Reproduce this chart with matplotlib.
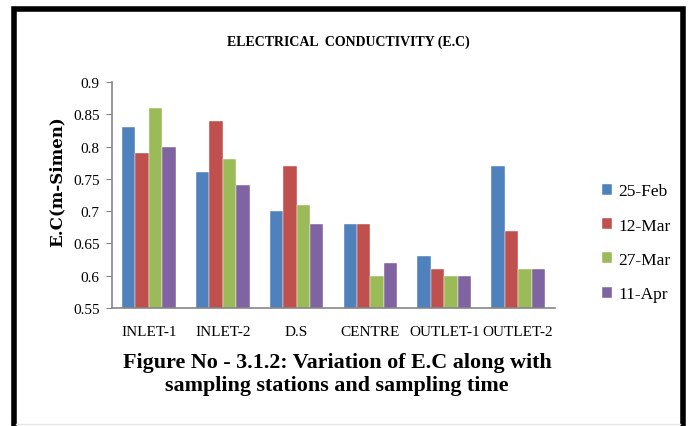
import numpy as np
import matplotlib
matplotlib.use("Agg")
import matplotlib.pyplot as plt
from matplotlib.patches import Rectangle
from matplotlib.lines import Line2D

# Data
stations = ["INLET-1", "INLET-2", "D.S", "CENTRE", "OUTLET-1", "OUTLET-2"]
dates = ["25-Feb", "12-Mar", "27-Mar", "11-Apr"]
feb25 = [0.83, 0.76, 0.70, 0.68, 0.63, 0.77]
mar12 = [0.79, 0.84, 0.77, 0.68, 0.61, 0.67]
mar27 = [0.86, 0.78, 0.71, 0.60, 0.60, 0.61]
apr11 = [0.80, 0.74, 0.68, 0.62, 0.60, 0.61]
yticks = [0.55, 0.6, 0.65, 0.7, 0.75, 0.8, 0.85, 0.9]
ytick_labels = ["0.55", "0.6", "0.65", "0.7", "0.75", "0.8", "0.85", "0.9"]

colors = ["#4F81BD", "#C0504D", "#9BBB59", "#8064A2"]
serif = "Liberation Serif"

fig = plt.figure(figsize=(6.88, 4.27), dpi=100)
ax = fig.add_axes([0.1628, 0.2763, 0.6439, 0.5293])

# Excel-style clustered bars (gap width 150%)
x = np.arange(len(stations))
width = 1 / (len(dates) + 1.5)
for i, (vals, lab) in enumerate(zip([feb25, mar12, mar27, apr11], dates)):
    offs = (i - (len(dates) - 1) / 2) * width
    ax.bar(x + offs, vals, width, color=colors[i], label=lab,
           edgecolor="white", linewidth=0.3)

ax.set_ylim(0.55, 0.9)
ax.set_xlim(-0.5, len(stations) - 0.5)
ax.set_yticks(yticks)
ax.set_yticklabels(ytick_labels, fontfamily=serif, fontsize=11)
ax.set_xticks(x)
ax.set_xticklabels(stations, fontfamily=serif, fontsize=11)
ax.tick_params(axis="x", length=0, pad=12)
ax.tick_params(axis="y", direction="out", length=4, color="#868686", pad=5)
for s in ["top", "right"]:
    ax.spines[s].set_visible(False)
for s in ["left", "bottom"]:
    ax.spines[s].set_color("#868686")
    ax.spines[s].set_linewidth(1.2)

ax.set_ylabel("E.C(m-Simen)", fontfamily="DejaVu Serif", fontweight="bold",
              fontsize=12)
ax.yaxis.set_label_coords(-0.104, 0.565)

fig.legend(loc="center left", bbox_to_anchor=(0.862, 0.429), frameon=False,
           prop={"family": serif, "size": 12.5}, handlelength=0.6,
           handleheight=0.6, handletextpad=0.35, labelspacing=1.05,
           borderpad=0)

fig.text(0.507, 0.9016, "ELECTRICAL  CONDUCTIVITY (E.C)", ha="center",
         va="center", fontfamily=serif, fontweight="bold", fontsize=10)
fig.text(0.49, 0.123, "Figure No - 3.1.2: Variation of E.C along with\n"
         "sampling stations and sampling time", ha="center", va="center",
         fontfamily=serif, fontweight="bold", fontsize=15.8, linespacing=1.15)

# black page frame around the chart
fig.patches.append(Rectangle((13.5 / 688, -0.1), (683 - 13.5) / 688,
                             1 - 10 / 427 + 0.1, transform=fig.transFigure,
                             fill=False, edgecolor="black", linewidth=4))
fig.lines.append(Line2D([16 / 688, 680 / 688], [2 / 427, 2 / 427],
                        transform=fig.transFigure, color="#e6e6e6", lw=1))

fig.savefig("out.png", dpi=100)
